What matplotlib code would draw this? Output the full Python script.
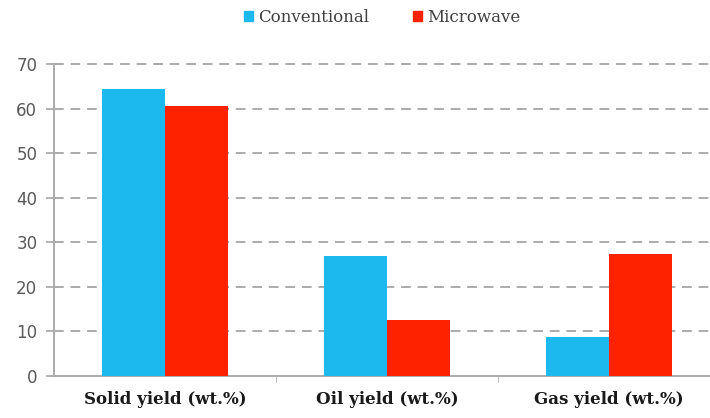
import numpy as np
import matplotlib.pyplot as plt
from matplotlib.patches import Patch

categories = ["Solid yield (wt.%)", "Oil yield (wt.%)", "Gas yield (wt.%)"]
conventional = [64.4, 26.9, 8.8]
microwave = [60.6, 12.6, 27.4]
yticks = [0, 10, 20, 30, 40, 50, 60, 70]

blue = "#1cb9ee"
red = "#ff2200"
grey = "#ababab"

fig = plt.figure(figsize=(7.1, 4.18), dpi=100)
ax = fig.add_axes([54 / 710, 42 / 418, 666 / 710, 312 / 418])

x = np.arange(len(categories))
w = 0.285
ax.bar(x - w / 2, conventional, w, color=blue, zorder=3)
ax.bar(x + w / 2, microwave, w, color=red, zorder=3)

ax.set_xlim(-0.5, 2.5)
ax.set_ylim(0, 70)
ax.set_yticks(yticks)
ax.set_yticklabels([str(v) for v in yticks], fontsize=12, color="#595959",
                   family="DejaVu Sans")
for v in yticks[1:]:
    ax.axhline(v, color=grey, lw=1.4, ls=(0, (5, 3.5)), zorder=1, clip_on=False)

ax.set_xticks(x)
ax.set_xticklabels(categories, fontsize=12, fontweight="bold",
                   family="DejaVu Serif", color="#1a1a1a")
ax.set_xticks([0.5, 1.5], minor=True)
ax.tick_params(axis="x", which="major", length=0, pad=11)
ax.tick_params(axis="x", which="minor", length=4, color=grey)
ax.tick_params(axis="y", length=6, color=grey, width=1.3, pad=6)

for s in ["top", "right"]:
    ax.spines[s].set_visible(False)
ax.spines["left"].set_color(grey)
ax.spines["bottom"].set_color(grey)
ax.spines["left"].set_linewidth(1.4)
ax.spines["bottom"].set_linewidth(1.4)

handles = [Patch(color=blue, label="Conventional"), Patch(color=red, label="Microwave")]
fig.legend(handles=handles, loc="center", bbox_to_anchor=(382 / 710, 1 - 17 / 418),
           ncol=2, frameon=False, handlelength=0.55, handleheight=0.55,
           handletextpad=0.3, columnspacing=2.6,
           prop={"family": "DejaVu Serif", "size": 12})
for t in fig.legends[0].get_texts():
    t.set_color("#404040")

fig.savefig("out.png", dpi=100)
